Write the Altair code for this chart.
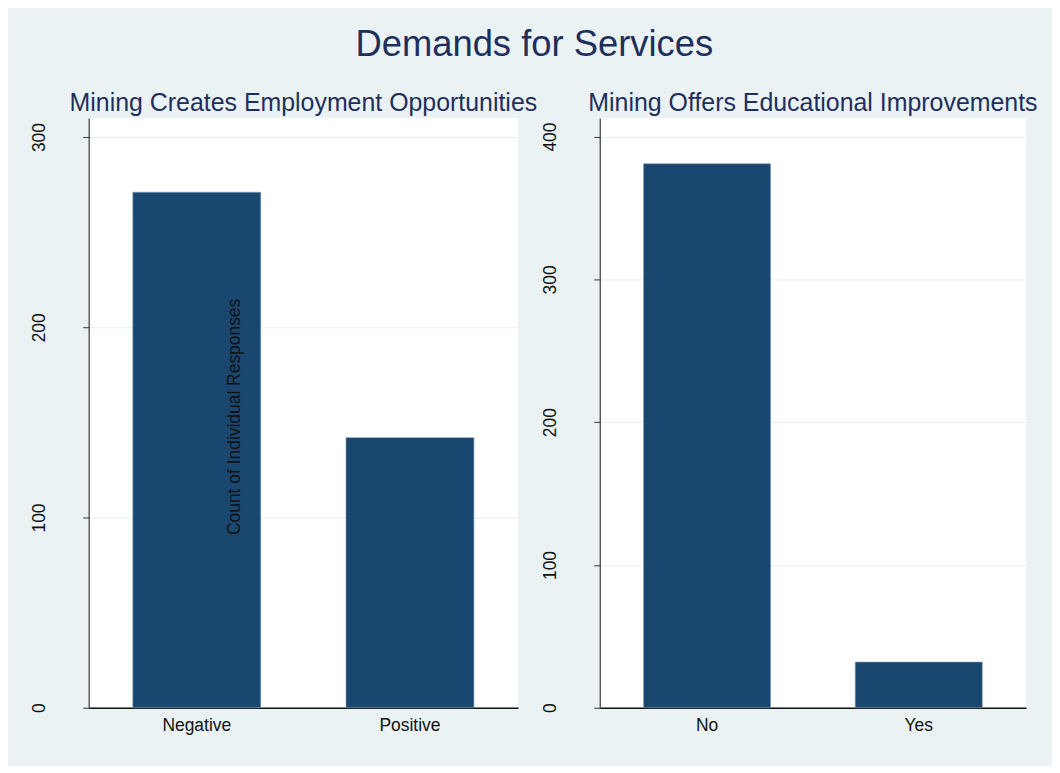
import altair as alt
import pandas as pd

main_title = "Demands for Services"
left_title = "Mining Creates Employment Opportunities"
right_title = "Mining Offers Educational Improvements"
y_label = "Count of Individual Responses"

left_cats = ["Negative", "Positive"]
left_vals = [271, 142]
right_cats = ["No", "Yes"]
right_vals = [381, 32]

left_ticks = [0, 100, 200, 300]
right_ticks = [0, 100, 200, 300, 400]
left_max = 310
right_max = 413

BG = "#eaf2f3"
BAR = "#1a476f"
NAVY = "#1e2f5e"
GRID = "#e6eef1"
FONT = "Liberation Sans"


def panel(cats, vals, ticks, ymax, sub, w, note=None):
    df = pd.DataFrame({"cat": cats, "val": vals})
    bars = alt.Chart(df).mark_bar(color=BAR, stroke="#7d99b3", strokeWidth=0.6).encode(
        x=alt.X(
            "cat:N",
            sort=cats,
            scale=alt.Scale(paddingInner=0.4, paddingOuter=0.207),
            axis=alt.Axis(
                title=None, labelAngle=0, ticks=False, labelPadding=9,
                domainColor="#111111", domainWidth=1.5, labelFontSize=17.5,
                labelColor="#111111", labelFont=FONT, grid=False,
            ),
        ),
        y=alt.Y(
            "val:Q",
            scale=alt.Scale(domain=[0, ymax], nice=False, zero=True),
            axis=alt.Axis(
                title=None, values=ticks, labelAngle=270, labelAlign="center",
                labelBaseline="alphabetic", tickSize=6, labelPadding=38,
                labelFontSize=17.5, labelColor="#111111", labelFont=FONT,
                domainColor="#333333", domainWidth=1.2, tickColor="#333333",
                grid=True, gridColor=GRID, gridWidth=1,
            ),
        ),
    )
    layers = [bars]
    if note is not None:
        ndf = pd.DataFrame({"t": [note]})
        txt = alt.Chart(ndf).mark_text(
            angle=270, fontSize=17.5, font=FONT, color="#111111",
            align="center", baseline="middle",
        ).encode(text="t:N", x=alt.value(147), y=alt.value(300))
        layers.append(txt)
    return alt.layer(*layers).properties(
        width=w, height=592,
        title=alt.TitleParams(sub, fontSize=25, font=FONT, color=NAVY,
                              fontWeight="normal", offset=2.5, anchor="middle"),
    )


left = panel(left_cats, left_vals, left_ticks, left_max, left_title, 431, y_label)
right = panel(right_cats, right_vals, right_ticks, right_max, right_title, 428)

chart = alt.hconcat(left, right, spacing=82, bounds="flush").properties(
    title=alt.TitleParams(main_title, fontSize=36.5, font=FONT, color=NAVY,
                          fontWeight="normal", offset=27.5, anchor="middle"),
    background=BG,
    padding={"left": 23, "top": 17, "right": 14, "bottom": 30},
).configure_view(stroke=None, fill="white")

chart.save("out.html", embed_options={"renderer": "svg", "actions": False})
